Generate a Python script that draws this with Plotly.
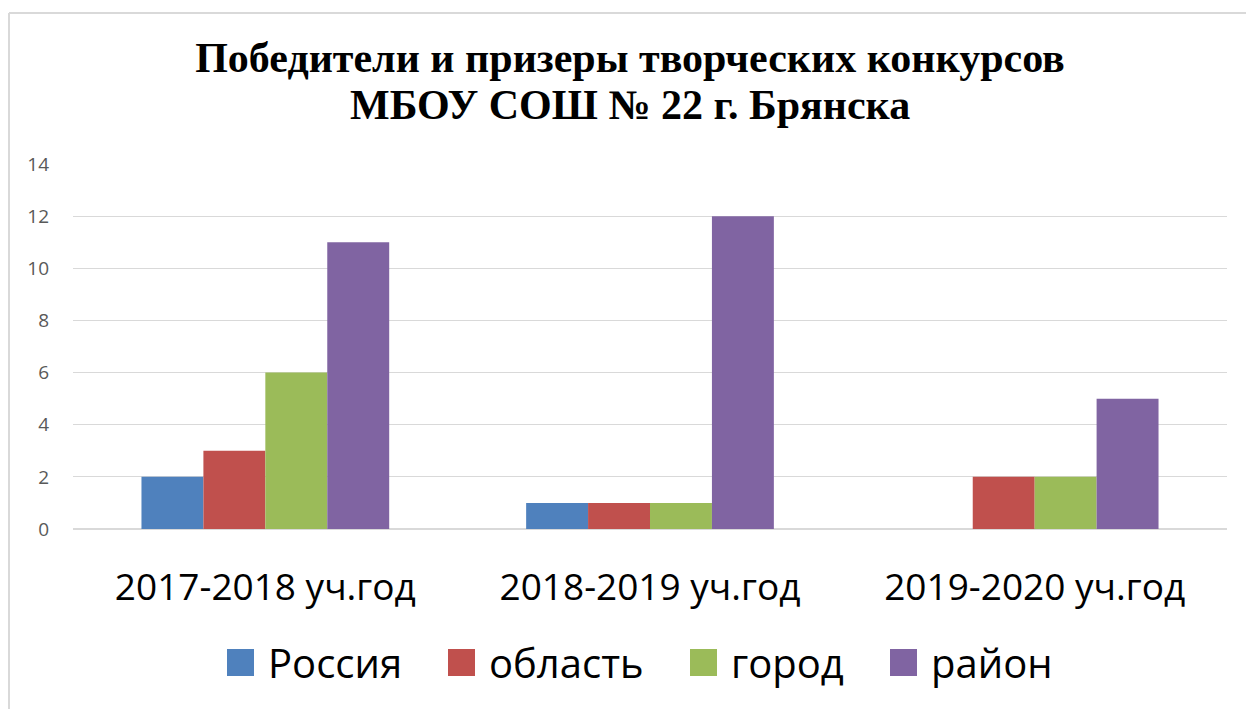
import plotly.graph_objects as go

categories = ["2017-2018 уч.год", "2018-2019 уч.год", "2019-2020 уч.год"]
series_names = ["Россия", "область", "город", "район"]
russia = [2, 1, 0]
oblast = [3, 1, 2]
gorod = [6, 1, 2]
raion = [11, 12, 5]
colors = ["#4f81bd", "#c0504d", "#9bbb59", "#8064a2"]
y_ticks = [0, 2, 4, 6, 8, 10, 12, 14]
title_lines = ["Победители и призеры творческих конкурсов", "МБОУ СОШ № 22 г. Брянска"]

W, H = 1246, 709
L, R, T, B = 73, 19, 164, 180
PW, PH = W - L - R, H - T - B


def px_x(px):
    return (px - L) / PW


def px_y(py):
    return (H - B - py) / PH


fig = go.Figure()
for name, vals, col in zip(series_names, [russia, oblast, gorod, raion], colors):
    fig.add_trace(go.Bar(x=categories, y=vals, name=name, showlegend=False,
                         marker=dict(color=col, line=dict(width=0))))

fig.update_layout(
    width=W, height=H,
    paper_bgcolor="white", plot_bgcolor="white",
    margin=dict(l=L, r=R, t=T, b=B, autoexpand=False),
    barmode="group", bargap=0.356, bargroupgap=0,
    title=dict(
        text="<b>" + title_lines[0] + "</b>",
        x=630 / W, xanchor="center", y=1 - 57 / H, yanchor="middle",
        font=dict(family="Liberation Serif", size=42, color="black"),
    ),
    xaxis=dict(
        tickfont=dict(family="Open Sans", size=37, color="black"),
        ticklabelstandoff=33, showline=False, showgrid=False,
    ),
    yaxis=dict(
        range=[0, 14], tickvals=y_ticks,
        tickfont=dict(family="Open Sans", size=19, color="#595959"),
        gridcolor="#d9d9d9", gridwidth=1, zeroline=True, zerolinecolor="#d9d9d9",
        ticklabelstandoff=23, showline=False,
    ),
    showlegend=False,
)

fig.add_annotation(text="<b>" + title_lines[1] + "</b>", xref="paper", yref="paper",
                   x=px_x(630), y=px_y(105), xanchor="center", yanchor="middle",
                   showarrow=False, font=dict(family="Liberation Serif", size=42, color="black"))

# manual legend (large square swatches)
legend_px = [227, 448, 690, 890]
for name, col, lx in zip(series_names, colors, legend_px):
    fig.add_shape(type="rect", xref="paper", yref="paper",
                  x0=px_x(lx), x1=px_x(lx + 27), y0=px_y(676), y1=px_y(649),
                  fillcolor=col, line=dict(width=0))
    fig.add_annotation(text=name, xref="paper", yref="paper",
                       x=px_x(lx + 39), y=px_y(662), xanchor="left", yanchor="middle",
                       showarrow=False, font=dict(family="Open Sans", size=40, color="black"))

# outer chart border (left and top edges)
fig.add_shape(type="line", xref="paper", yref="paper", x0=px_x(9), x1=px_x(9),
              y0=px_y(720), y1=px_y(13), line=dict(color="#d9d9d9", width=2))
fig.add_shape(type="line", xref="paper", yref="paper",
              x0=px_x(9), x1=px_x(1260), y0=px_y(13), y1=px_y(13),
              line=dict(color="#d9d9d9", width=2))

fig.write_html("out.html", config={"displayModeBar": False},
               post_script="document.body.style.margin='0';")
